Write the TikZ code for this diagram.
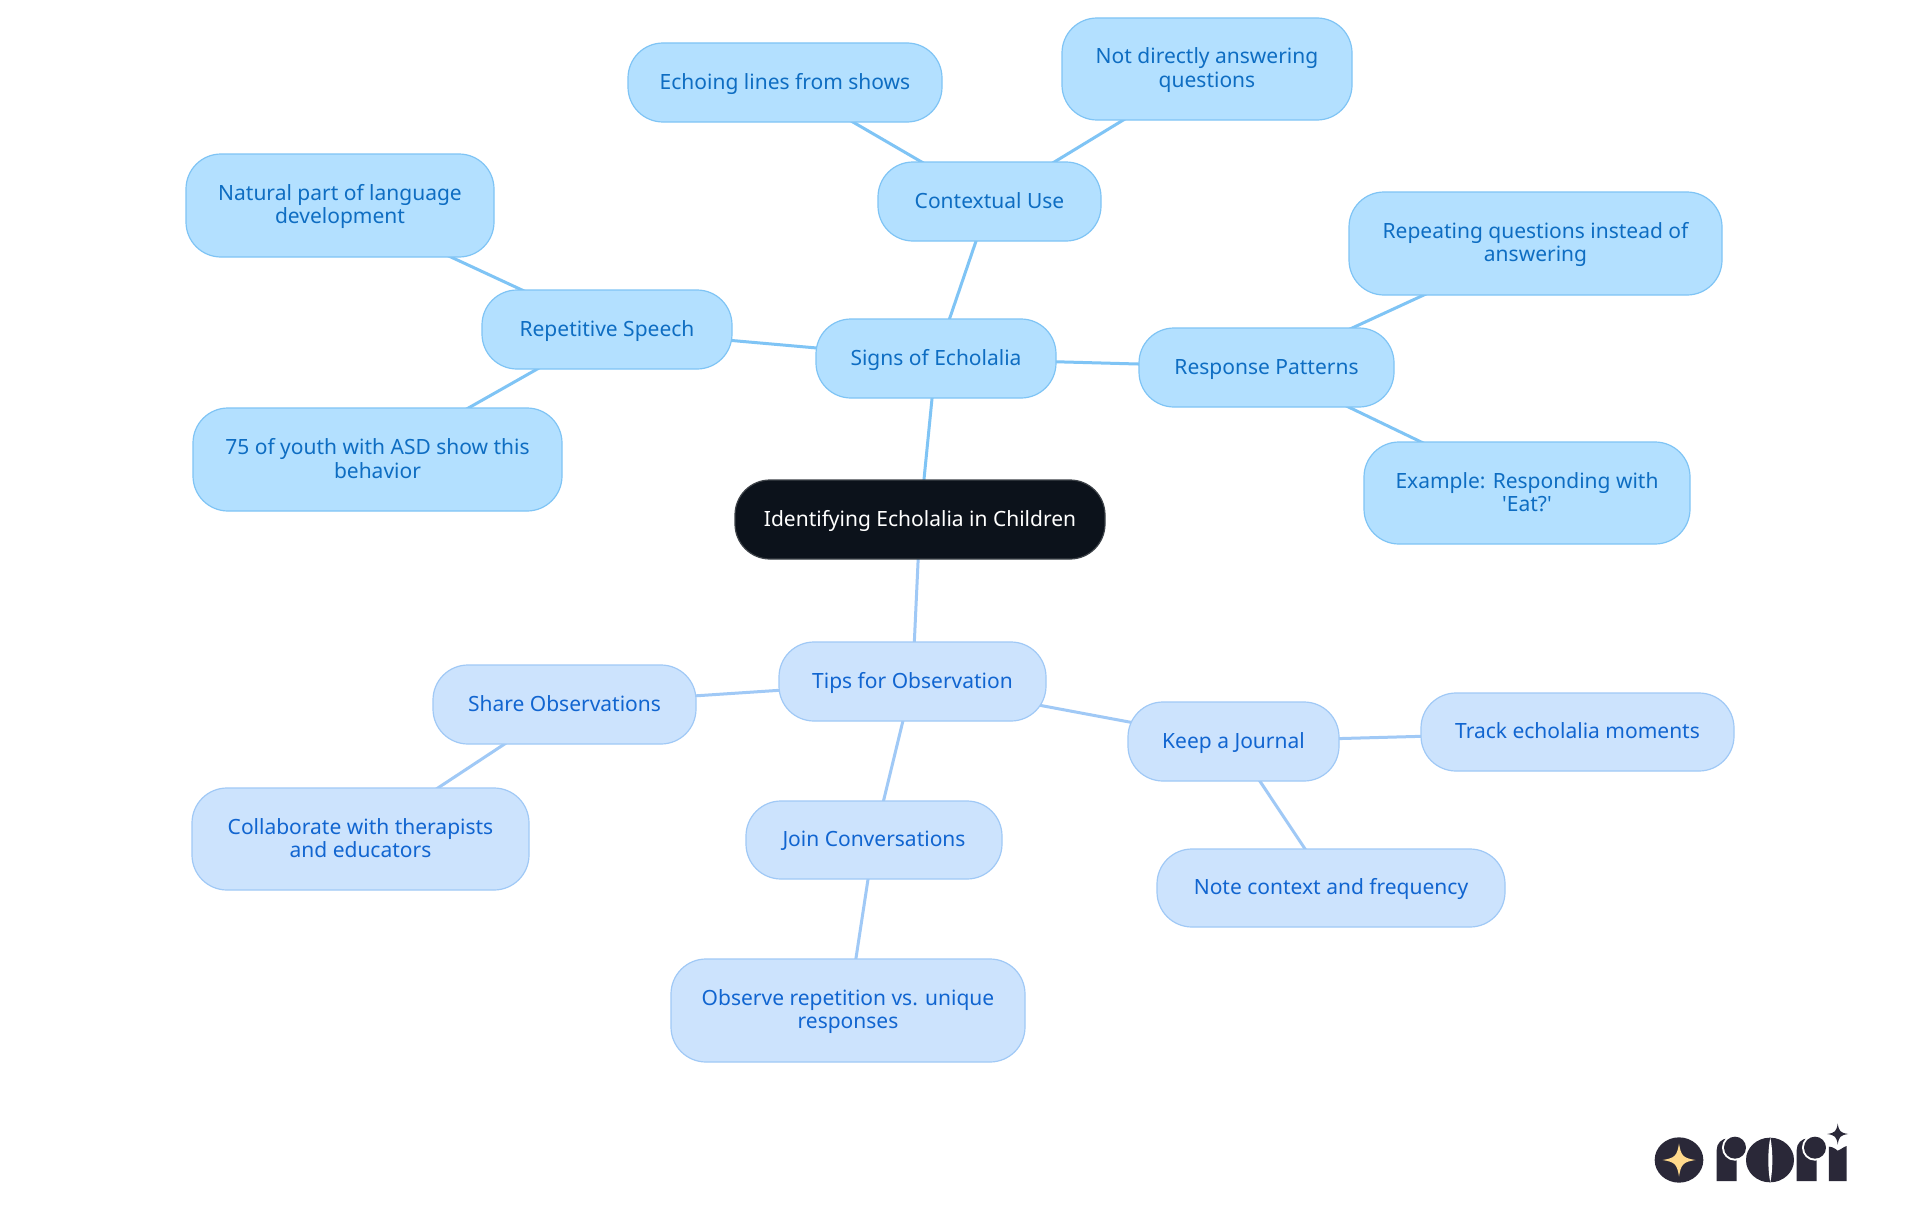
\documentclass[tikz,border=0pt]{standalone}
\usepackage{fontspec}
\newfontfamily\boxfont{Noto Sans}
\usetikzlibrary{backgrounds}
\definecolor{rootfill}{HTML}{0C121B}
\definecolor{rootline}{HTML}{3D4248}
\definecolor{afill}{HTML}{B3E0FF}
\definecolor{aline}{HTML}{7FC4F5}
\definecolor{atext}{HTML}{0E6DC2}
\definecolor{bfill}{HTML}{CCE3FD}
\definecolor{bline}{HTML}{A0C9F6}
\definecolor{btext}{HTML}{1165D0}
\definecolor{logodark}{HTML}{2A2838}
\definecolor{logostar}{HTML}{FFD98C}
\tikzset{
  box/.style={draw, line width=1.2pt, rounded corners=35pt, align=center, inner sep=0pt,
    font=\boxfont\fontsize{21}{23.5}\selectfont},
  rootbox/.style={box, fill=rootfill, draw=rootline, text=white},
  abox/.style={box, fill=afill, draw=aline, text=atext},
  bbox/.style={box, fill=bfill, draw=bline, text=btext},
  alink/.style={draw=aline, line width=3pt},
  blink/.style={draw=bline, line width=3pt},
}
\newcommand{\boxstrut}{\rule[-4.75pt]{0pt}{23pt}}
\newcommand{\bx}[7]{% name style left top right bottom text
  \node[#2, minimum width=#5pt-#3pt, minimum height=#6pt-#4pt] (#1) at ({(#3+#5)/2},{(#4+#6)/2}) {\boxstrut #7\boxstrut};}
\newcommand{\fourstar}[3]{% cx cy r
  \fill[shift={(#1,#2)}] (-#3,0) .. controls (-#3*0.25,-#3*0.12) and (-#3*0.12,-#3*0.25) .. (0,-#3)
    .. controls (#3*0.12,-#3*0.25) and (#3*0.25,-#3*0.12) .. (#3,0)
    .. controls (#3*0.25,#3*0.12) and (#3*0.12,#3*0.25) .. (0,#3)
    .. controls (-#3*0.12,#3*0.25) and (-#3*0.25,#3*0.12) .. (-#3,0) -- cycle;}
\begin{document}
\begin{tikzpicture}[x=1pt,y=-1pt]
\useasboundingbox (0,0) rectangle (1920,1215);
\bx{root}{rootbox}{735}{480}{1105}{559}{Identifying Echolalia in Children}
\bx{signs}{abox}{816}{319}{1056}{398}{Signs of Echolalia}
\bx{ctx}{abox}{878}{162}{1101}{241}{Contextual Use}
\bx{echo}{abox}{628}{43}{942}{122}{Echoing lines from shows}
\bx{nda}{abox}{1062}{18}{1352}{120}{Not directly answering\\questions}
\bx{rep}{abox}{482}{290}{732}{369}{Repetitive Speech}
\bx{nat}{abox}{186}{154}{494}{257}{Natural part of language\\development}
\bx{sev}{abox}{193}{408}{562}{511}{75 of youth with ASD show this\\behavior}
\bx{resp}{abox}{1139}{328}{1394}{407}{Response Patterns}
\bx{rq}{abox}{1349}{192}{1722}{295}{Repeating questions instead of\\answering}
\bx{ex}{abox}{1364}{442}{1690}{544}{Example: Responding with\\'Eat?'}
\bx{tips}{bbox}{779}{642}{1046}{721}{Tips for Observation}
\bx{share}{bbox}{433}{665}{696}{744}{Share Observations}
\bx{coll}{bbox}{192}{788}{529}{890}{Collaborate with therapists\\and educators}
\bx{join}{bbox}{746}{801}{1002}{879}{Join Conversations}
\bx{obs}{bbox}{671}{959}{1025}{1062}{Observe repetition vs. unique\\responses}
\bx{keep}{bbox}{1128}{702}{1339}{781}{Keep a Journal}
\bx{track}{bbox}{1421}{693}{1734}{771}{Track echolalia moments}
\bx{note}{bbox}{1157}{849}{1505}{927}{Note context and frequency}
\begin{pgfonlayer}{background}
\fill[white] (0,0) rectangle (1920,1215);
\draw[alink] (root.center) -- (signs.center);
\draw[alink] (signs.center) -- (ctx.center);
\draw[alink] (ctx.center) -- (echo.center);
\draw[alink] (ctx.center) -- (nda.center);
\draw[alink] (signs.center) -- (rep.center);
\draw[alink] (rep.center) -- (nat.center);
\draw[alink] (rep.center) -- (sev.center);
\draw[alink] (signs.center) -- (resp.center);
\draw[alink] (resp.center) -- (rq.center);
\draw[alink] (resp.center) -- (ex.center);
\draw[blink] (root.center) -- (tips.center);
\draw[blink] (tips.center) -- (share.center);
\draw[blink] (share.center) -- (coll.center);
\draw[blink] (tips.center) -- (join.center);
\draw[blink] (join.center) -- (obs.center);
\draw[blink] (tips.center) -- (keep.center);
\draw[blink] (keep.center) -- (track.center);
\draw[blink] (keep.center) -- (note.center);
\end{pgfonlayer}
% logo
\begin{scope}[shift={(1620,1100)},x=0.3333pt,y=-0.3333pt]
\fill[logodark] (177,180) ellipse (73 and 68);
\end{scope}
\begin{scope}[color=logostar,fill=logostar]\fourstar{1679}{1160}{16.5}\end{scope}
\begin{scope}[shift={(1620,1100)},x=0.3333pt,y=-0.3333pt]
% first r
\fill[logodark] (290,243) -- (290,150) .. controls (290,130) and (305,115) .. (325,115) -- (350,115) -- (350,243) -- cycle;
\fill[white] (345,143) circle (39);
\fill[logodark] (345,143) circle (33);
% o
\fill[logodark] (450,180) ellipse (72 and 67);
\fill[white] (451,113) .. controls (443,150) and (443,210) .. (451,247) .. controls (459,210) and (459,150) .. (451,113) -- cycle;
% second r
\fill[logodark] (530,243) -- (530,150) .. controls (530,130) and (545,115) .. (565,115) -- (590,115) -- (590,243) -- cycle;
\fill[white] (585,143) circle (39);
\fill[logodark] (585,143) circle (33);
% i
\fill[logodark] (627,243) -- (627,140) .. controls (640,140) and (650,150) .. (653,152) .. controls (660,150) and (672,140) .. (680,138) -- (680,243) -- cycle;
\end{scope}
\begin{scope}[color=logodark,fill=logodark]\fourstar{1837.7}{1134}{10.5}\end{scope}
\end{tikzpicture}
\end{document}
